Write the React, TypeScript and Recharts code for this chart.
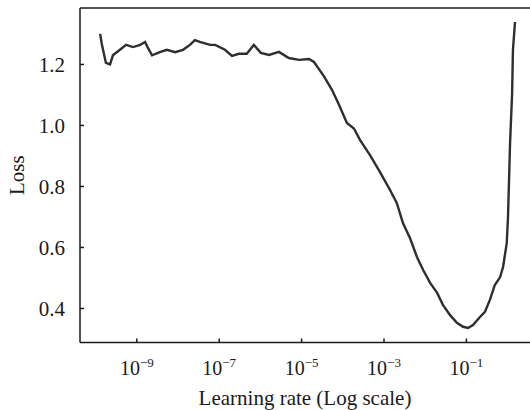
import { LineChart, Line, XAxis, YAxis } from 'recharts';

// learning rate as log10 exponent
const lrExponent = [
  -9.89, -9.85, -9.75, -9.65, -9.58, -9.41, -9.26, -9.09, -8.92, -8.8,
  -8.73, -8.63, -8.44, -8.27, -8.07, -7.88, -7.71, -7.59, -7.47, -7.22,
  -7.1, -6.86, -6.69, -6.52, -6.33, -6.16, -5.99, -5.79, -5.55, -5.31,
  -5.06, -4.82, -4.7, -4.46, -4.26, -4.09, -3.9, -3.73, -3.58, -3.34,
  -3.1, -2.86, -2.69, -2.54, -2.37, -2.2, -2.05, -1.88, -1.71, -1.57,
  -1.4, -1.23, -1.08, -0.96, -0.84, -0.67, -0.55, -0.43, -0.31, -0.18,
  -0.11, -0.02, 0.01, 0.06, 0.11, 0.13, 0.18,
];
const loss = [
  1.3, 1.267, 1.205, 1.2, 1.23, 1.248, 1.264, 1.257, 1.264, 1.274,
  1.254, 1.23, 1.24, 1.248, 1.24, 1.248, 1.264, 1.28, 1.274, 1.264,
  1.264, 1.248, 1.228, 1.235, 1.235, 1.264, 1.238, 1.231, 1.241, 1.221,
  1.215, 1.218, 1.208, 1.162, 1.116, 1.067, 1.008, 0.99, 0.952, 0.903,
  0.848, 0.79, 0.746, 0.68, 0.631, 0.569, 0.526, 0.484, 0.451, 0.412,
  0.379, 0.353, 0.34, 0.336, 0.346, 0.372, 0.389, 0.428, 0.477, 0.503,
  0.536, 0.615, 0.7, 0.942, 1.106, 1.248, 1.339,
];
const xTicks = [-9, -7, -5, -3, -1];
const yTicks = [0.4, 0.6, 0.8, 1.0, 1.2];
const xDomain = [-10.379, 0.544];
const yDomain = [0.2885, 1.385];

const data = lrExponent.map((e, i) => ({ lr: e, loss: loss[i] }));

const FONT = 'Liberation Serif, Times New Roman, serif';
const INK = '#1a1a1a';
const PLOT_TOP = 8;

function XTick(props: any) {
  const { x, y, payload } = props;
  return (
    <g>
      <line x1={x} x2={x} y1={y} y2={y - 4} stroke={INK} strokeWidth={1.5} />
      <text x={x} y={y + 32} textAnchor="middle" fontFamily={FONT} fontSize={20} fill={INK}>
        10
        <tspan dy={-8} fontSize={13}>{`\u2212${Math.abs(payload.value)}`}</tspan>
      </text>
    </g>
  );
}

function YTick(props: any) {
  const { x, y, payload } = props;
  return (
    <g>
      <line x1={x} x2={x + 4} y1={y} y2={y} stroke={INK} strokeWidth={1.5} />
      <text x={x - 15} y={y} dy="0.355em" textAnchor="end" fontFamily={FONT} fontSize={21} fill={INK}>
        {payload.value.toFixed(1)}
      </text>
    </g>
  );
}

function XLabel(p: any) {
  const vb = p.viewBox;
  return (
    <g>
      {/* top edge of the plot frame */}
      <line x1={vb.x} x2={vb.x + vb.width} y1={PLOT_TOP} y2={PLOT_TOP} stroke={INK} strokeWidth={1.5} />
      <text
        x={vb.x + vb.width / 2}
        y={vb.y + 62.5}
        textAnchor="middle"
        fontFamily={FONT}
        fontSize={21}
        fill={INK}
      >
        Learning rate (Log scale)
      </text>
    </g>
  );
}

function YLabel(p: any) {
  const cx = 24;
  const cy = p.viewBox.y + p.viewBox.height / 2;
  return (
    <text
      x={cx}
      y={cy}
      transform={`rotate(-90 ${cx} ${cy})`}
      textAnchor="middle"
      fontFamily={FONT}
      fontSize={21}
      fill={INK}
    >
      Loss
    </text>
  );
}

export default function App() {
  return (
    <div style={{ position: 'absolute', left: 0, top: 0, background: '#fff' }}>
      <LineChart width={530} height={410} data={data} margin={{ top: PLOT_TOP, right: 0, bottom: 0, left: 0 }}>
        <XAxis
          dataKey="lr"
          type="number"
          domain={xDomain}
          allowDataOverflow
          ticks={xTicks}
          interval={0}
          height={67.5}
          tickSize={0}
          tickMargin={0}
          tickLine={false}
          tick={<XTick />}
          axisLine={{ stroke: INK, strokeWidth: 1.5 }}
          label={{ content: XLabel }}
        />
        <YAxis
          type="number"
          domain={yDomain}
          allowDataOverflow
          ticks={yTicks}
          interval={0}
          width={80}
          tickSize={0}
          tickMargin={0}
          tickLine={false}
          tick={<YTick />}
          axisLine={{ stroke: INK, strokeWidth: 1.5 }}
          label={{ content: YLabel }}
        />
        <Line
          type="linear"
          dataKey="loss"
          stroke="#2e2e2e"
          strokeWidth={2.4}
          dot={false}
          isAnimationActive={false}
        />
      </LineChart>
    </div>
  );
}
